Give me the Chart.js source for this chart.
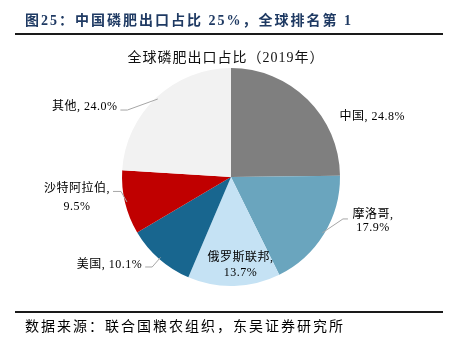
<!DOCTYPE html>
<html>
<head>
<meta charset="utf-8">
<script src="https://cdn.jsdelivr.net/npm/chart.js@4/dist/chart.umd.min.js"></script>
<style>
  html, body { margin: 0; padding: 0; background: #fff; }
  #wrap { width: 453px; height: 353px; }
</style>
</head>
<body>
<div id="wrap"><canvas id="chart"></canvas></div>
<script>
const countries = ["中国", "摩洛哥", "俄罗斯联邦", "美国", "沙特阿拉伯", "其他"];
const shares = [24.8, 17.9, 13.7, 10.1, 9.5, 24.0];
const sliceColors = ["#7f7f7f", "#6aa5be", "#c5e2f4", "#18668f", "#c00000", "#f2f2f2"];

const FONT = '"Liberation Serif", "Noto Sans CJK SC", serif';

// where each label sits relative to its slice (edge point unless inside)
const labelPlacement = [
  { inside: false, lines: false, text: [[32, 17.5, "left"]], oneLine: true },
  { inside: false, elbow: [19, -15], end: [24, -15], text: [[49, -19, "center"], [49, -6, "center"]] },
  { inside: true, r: 0.8, text: [[7, -6, "center"], [7, 9, "center"]] },
  { inside: false, elbow: [-7, 8], end: [-14, 8], text: [[-17, 6, "right"]], oneLine: true },
  { inside: false, elbow: [-4, -11], end: [-12, -11], text: [[-48, -14, "center"], [-48, 4, "center"]] },
  { inside: false, elbow: [-29, 12.5], end: [-36, 12.5], text: [[-39, 9, "right"]], oneLine: true },
];

const decorations = {
  id: "decorations",
  afterDraw(chart) {
    const ctx = chart.ctx;
    ctx.save();
    // header
    ctx.fillStyle = "#1f3a63";
    ctx.font = "bold 14px " + FONT;
    ctx.letterSpacing = "2px";
    ctx.textBaseline = "middle";
    ctx.textAlign = "left";
    ctx.fillText("图25：中国磷肥出口占比 25%，全球排名第 1", 25, 21);
    ctx.fillStyle = "#1a1a1a";
    ctx.fillRect(15, 33, 428, 2);
    ctx.fillRect(15, 311, 428, 2);
    // footer
    ctx.font = "14px " + FONT;
    ctx.fillStyle = "#000";
    ctx.fillText("数据来源：联合国粮农组织，东吴证券研究所", 25, 327);
    // chart title
    ctx.letterSpacing = "1px";
    ctx.textAlign = "center";
    ctx.fillStyle = "#111";
    ctx.fillText("全球磷肥出口占比（2019年）", 226, 58);

    // slice labels
    ctx.letterSpacing = "0.5px";
    ctx.font = "12px " + FONT;
    const arcs = chart.getDatasetMeta(0).data;
    arcs.forEach((arc, i) => {
      const p = labelPlacement[i];
      const mid = (arc.startAngle + arc.endAngle) / 2;
      const r = arc.outerRadius * (p.inside ? p.r : 1);
      const ax = arc.x + r * Math.cos(mid);
      const ay = arc.y + r * Math.sin(mid);
      if (p.elbow) {
        ctx.strokeStyle = "#a6a6a6";
        ctx.lineWidth = 1;
        ctx.beginPath();
        ctx.moveTo(ax - Math.cos(mid) * 2, ay - Math.sin(mid) * 2);
        ctx.lineTo(ax + p.elbow[0], ay + p.elbow[1]);
        ctx.lineTo(ax + p.end[0], ay + p.end[1]);
        ctx.stroke();
      }
      const pct = shares[i].toFixed(1) + "%";
      const texts = p.oneLine ? [countries[i] + ", " + pct] : [countries[i] + ",", pct];
      ctx.fillStyle = "#000";
      texts.forEach((t, k) => {
        const [dx, dy, align] = p.text[k];
        ctx.textAlign = align;
        ctx.fillText(t, ax + dx, ay + dy);
      });
    });
    ctx.restore();
  }
};

new Chart(document.getElementById("chart"), {
  type: "pie",
  data: {
    labels: countries,
    datasets: [{
      data: shares,
      backgroundColor: sliceColors,
      borderWidth: 0,
    }],
  },
  options: {
    responsive: true,
    maintainAspectRatio: false,
    animation: false,
    layout: { padding: { left: 122, right: 113, top: 68, bottom: 67 } },
    plugins: {
      legend: { display: false },
      tooltip: { enabled: false },
    },
  },
  plugins: [decorations],
});
</script>
</body>
</html>
